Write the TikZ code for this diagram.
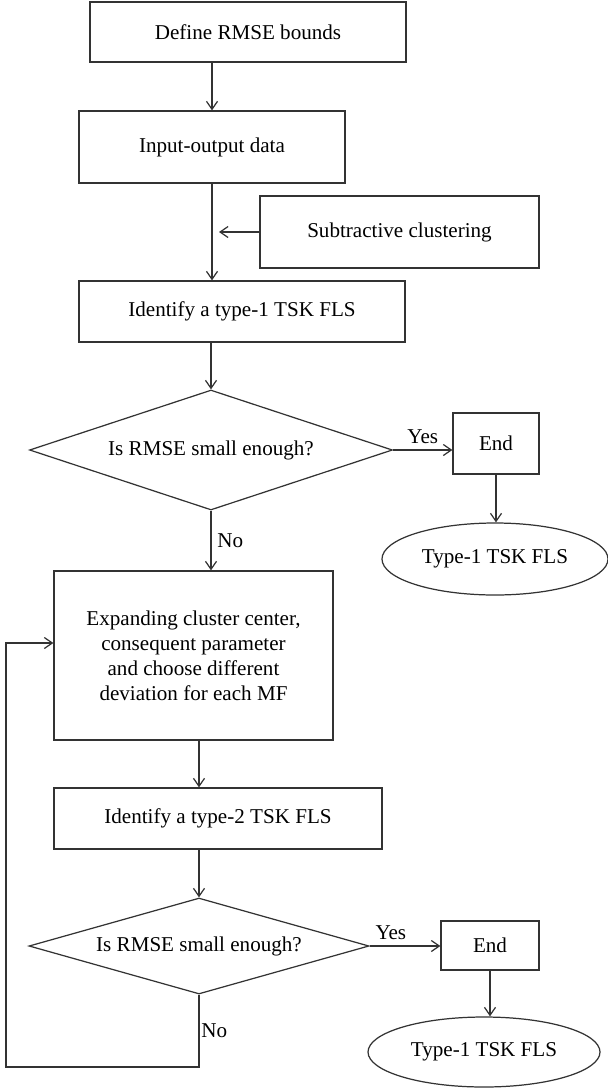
\documentclass[tikz,border=0pt]{standalone}
\usepackage{fontspec}
\setmainfont{Liberation Serif}
\usetikzlibrary{shapes.geometric,arrows.meta}

\begin{document}
\begin{tikzpicture}[
		every node/.style={font=\fontsize{12}{14.2}\selectfont},
		procbox/.style={draw=black!80,line width=.7pt,rectangle,align=center,inner sep=0pt},
		decision/.style={draw=black!80,line width=.7pt,diamond,aspect=3,inner sep=0pt},
		terminal/.style={draw=black!80,line width=.7pt,ellipse,inner sep=0pt},
		flowline/.style={draw=black!80,line width=.7pt,-{Straight Barb[length=1.6mm,width=2.2mm]}}
	]
				\useasboundingbox (0,0) rectangle (12.16,-21.76);
				
				\node[procbox,minimum width=6.32cm,minimum height=1.2cm] (define) at (4.96,-.64) {Define RMSE bounds};
				\node[procbox,minimum width=5.32cm,minimum height=1.44cm] (data) at (4.24,-2.94) {Input-output data};
				\node[procbox,minimum width=5.58cm,minimum height=1.44cm] (subclust) at (7.99,-4.64) {Subtractive clustering};
				\node[procbox,minimum width=6.52cm,minimum height=1.22cm] (ident1) at (4.84,-6.23) {Identify a type-1 TSK FLS};
				\node[decision,minimum width=7.26cm,minimum height=2.4cm] (check1) at (4.22,-9) {Is RMSE small enough?};
				\node[procbox,minimum width=1.72cm,minimum height=1.22cm] (end1) at (9.92,-8.87) {End};
				\node[terminal,minimum width=4.52cm,minimum height=1.44cm] (out1) at (9.9,-11.18) {Type-1 TSK FLS};
				
				\node[procbox,minimum width=5.58cm,minimum height=3.38cm] (expand) at (3.87,-13.11) {Expanding cluster center,\\consequent parameter\\and choose different\\deviation for each MF};
				\node[procbox,minimum width=6.56cm,minimum height=1.22cm] (ident2) at (4.36,-16.37) {Identify a type-2 TSK FLS};
				\node[decision,minimum width=6.8cm,minimum height=1.92cm] (check2) at (3.98,-18.92) {Is RMSE small enough?};
				\node[procbox,minimum width=1.96cm,minimum height=.98cm] (end2) at (9.8,-18.91) {End};
				\node[terminal,minimum width=4.64cm,minimum height=1.4cm] (out2) at (9.68,-21.04) {Type-1 TSK FLS};
				
				\coordinate (loopbot) at (3.98,-21.34);
				\coordinate (loopin) at (.12,-12.86);
				
				\draw[flowline] (data.north |- define.south) -- (data.north);
				\draw[flowline] (data.south) -- (data.south |- ident1.north);
				\draw[flowline,shorten >=.14cm] (subclust.west) -- (subclust.west -| data.south);
				\draw[flowline] (check1.north |- ident1.south) -- (check1.north);
				\draw[flowline] (check1.east) -- (check1.east -| end1.west) node[midway,above] {Yes};
				\draw[flowline] (end1.south) -- (end1.south |- out1.north);
				\draw[flowline] (check1.south) -- (check1.south |- expand.north) node[midway,right] {No};
				
				\draw[flowline] (check2.north |- expand.south) -- (check2.north |- ident2.north);
				\draw[flowline] (check2.north |- ident2.south) -- (check2.north);
				\draw[flowline] (check2.east) -- (check2.east -| end2.west) node[pos=.3,above] {Yes};
				\draw[flowline] (end2.south) -- (end2.south |- out2.north);
				\draw[flowline] (check2.south) -- (loopbot) node[midway,right,inner sep=1pt] {No} -| (loopin) -- (loopin -| expand.west);
				
			\end{tikzpicture}
\end{document}
